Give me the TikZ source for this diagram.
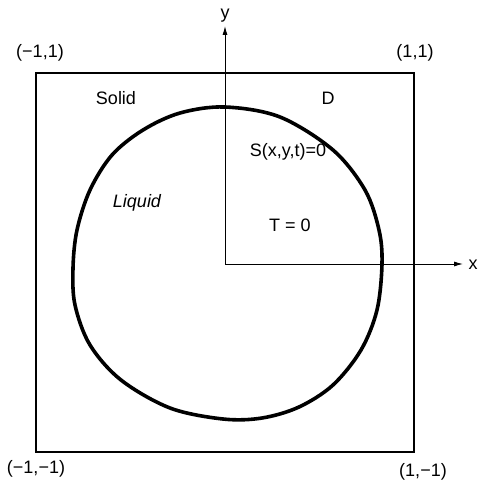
\documentclass[tikz,border=0pt]{standalone}
\usepackage{fontspec}
\setmainfont{Liberation Sans}
\usetikzlibrary{arrows.meta}
\begin{document}
\begin{tikzpicture}[x=1pt,y=-1pt,
  lbl/.style={inner sep=0pt,font=\fontsize{18}{20}\selectfont},
  frame/.style={line width=1.3pt},
  axis/.style={line width=0.9pt,-{Latex[length=9pt,width=5pt]}},
  front/.style={line width=3.6pt,line join=round}]
\useasboundingbox (0,0) rectangle (477,487);
\coordinate (O) at (225,264);
\coordinate (ytip) at (225,26);
\coordinate (xtip) at (463,264);
\draw[frame] (36,73) rectangle (414,452);
\draw[axis] (O) -- (ytip);
\draw[axis] (O) -- (xtip);
\draw[front] plot[smooth cycle,tension=0.55] coordinates {
 (225,107) (280,117) (333,150) (365,190) (379,230) (382,264) (377,310)
 (361,350) (333,385) (299,407) (262,418) (223,419) (170,408) (121,380)
 (90,345) (75,305) (73,268) (77,230) (90,190) (112,155) (143,130) (180,113)};
\node[lbl] (ylab) at (225,16) {y};
\node[lbl] (xlab) at (473,265) {x};
\node[lbl] (tl) at (40,53) {(−1,1)};
\node[lbl] (tr) at (415,53) {(1,1)};
\node[lbl] (bl) at (36,469) {(−1,−1)};
\node[lbl] (br) at (423,472) {(1,−1)};
\node[lbl] (solid) at (116,98) {Solid};
\node[lbl] (D) at (328,98) {D};
\node[lbl] (S) at (288,152) {S(x,y,t)=0};
\node[lbl] (T) at (290,225) {T = 0};
\node[lbl,font=\fontsize{18}{20}\selectfont\itshape] (liq) at (137,203) {Liquid};
\end{tikzpicture}
\end{document}
